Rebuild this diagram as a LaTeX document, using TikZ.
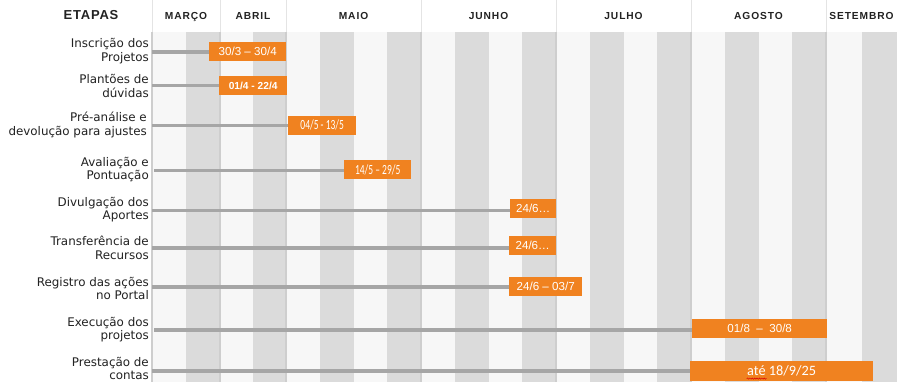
\documentclass[tikz,border=0pt]{standalone}
\usepackage{fontspec}
\setmainfont{DejaVu Sans}
\newfontfamily\headfont[LetterSpace=6]{Liberation Sans}
\newfontfamily\monthfont[LetterSpace=9]{Liberation Sans}
\newfontfamily\boxfont{Liberation Sans}
\newfontfamily\narrowfont[FakeStretch=0.68]{Carlito}
\newfontfamily\calfont{Carlito}
\usetikzlibrary{positioning,decorations.pathmorphing}

\definecolor{barorange}{RGB}{240,130,32}
\definecolor{stripelight}{RGB}{247,247,247}
\definecolor{stripedark}{RGB}{219,219,219}
\definecolor{linegray}{RGB}{166,166,166}
\definecolor{sepgray}{RGB}{206,206,206}
\definecolor{headsep}{RGB}{228,228,228}
\definecolor{textgray}{RGB}{34,34,34}

\begin{document}
\begin{tikzpicture}[x=1pt,y=-1pt,
    etapa/.style={anchor=east, align=right, inner sep=0pt, text=textgray,
      font=\fontsize{11.9}{13.3}\selectfont},
    periodo/.style={anchor=west, fill=barorange, text=white, inner sep=0pt,
      minimum height=19pt, font=\boxfont\fontsize{11.6}{13}\selectfont},
    trilha/.style={draw=linegray, line width=3.6pt},
    mes/.style={anchor=base, text=textgray, font=\monthfont\bfseries\fontsize{10.2}{12}\selectfont}]

  \useasboundingbox (0,0) rectangle (897,382);
  \fill[white] (0,0) rectangle (897,382);

  % semanas e meses
  \foreach \ini/\fim/\sem/\nome [count=\m] in {152/220/2/MARÇO, 220/286/2/ABRIL,
      286/421/4/MAIO, 421/556/4/JUNHO, 556/691/4/JULHO, 691/826/4/AGOSTO, 826/897/2/SETEMBRO}{
    \pgfmathsetmacro{\w}{(\fim-\ini)/\sem}
    \foreach \k in {1,...,\sem}{
      \pgfmathsetmacro{\xa}{\ini+(\k-1)*\w}
      \pgfmathsetmacro{\xb}{\ini+\k*\w}
      \ifodd\k
        \fill[stripelight] (\xa,32) rectangle (\xb,382);
      \else
        \fill[stripedark] (\xa,32) rectangle (\xb,382);
      \fi
    }
    \node[mes] (mes\m) at ({(\ini+\fim)/2},19.2) {\nome};
  }
  \foreach \x in {152,220,286,421,556,691,826}{
    \draw[headsep, line width=1pt] (\x,0) -- (\x,32);
    \draw[sepgray, line width=1.3pt] (\x,32) -- (\x,382);
  }

  \node[anchor=base, text=textgray, font=\headfont\bfseries\fontsize{13}{15}\selectfont] (etapas) at (91,19.2) {ETAPAS};

  % etapas
  \node[etapa] (e1) at (149,51) {Inscrição dos\\Projetos};
  \node[etapa] (e2) at (149,86) {Plantões de\\dúvidas};
  \node[etapa] (e3) at (147,125) {Pré-análise e\\devolução para ajustes};
  \node[etapa] (e4) at (149,169.7) {Avaliação e\\Pontuação};
  \node[etapa] (e5) at (149,209.5) {Divulgação dos\\Aportes};
  \node[etapa] (e6) at (149,247.8) {Transferência de\\Recursos};
  \node[etapa] (e7) at (149,288.5) {Registro das ações\\no Portal};
  \node[etapa] (e8) at (149,329.5) {Execução dos\\projetos};
  \node[etapa] (e9) at (149,368.6) {Prestação de\\contas};

  % periodos
  \node[periodo, minimum width=77pt] (p1) at (209,51.5) {30/3 – 30/4};
  \node[periodo, minimum width=68pt, font=\boxfont\bfseries\fontsize{10.2}{12}\selectfont] (p2) at (219,86) {01/4 - 22/4};
  \node[periodo, minimum width=68pt, font=\narrowfont\fontsize{14}{16}\selectfont] (p3) at (288,125.3) {04/5 - 13/5};
  \node[periodo, minimum width=67pt, font=\narrowfont\fontsize{14}{16}\selectfont] (p4) at (344,169.5) {14/5 – 29/5};
  \node[periodo, minimum width=46pt] (p5) at (510,208.3) {24/6…};
  \node[periodo, minimum width=47pt] (p6) at (509,245.3) {24/6…};
  \node[periodo, minimum width=73pt] (p7) at (509,286.3) {24/6 – 03/7};
  \node[periodo, minimum width=135pt] (p8) at (692,328.3) {01/8\ \ –\ \ 30/8};
  \node[periodo, minimum width=183pt, minimum height=20pt, font=\calfont\fontsize{14.3}{16}\selectfont] (p9) at (690,371) {até 18/9/25};

  \coordinate (i1) at (152,52);
  \coordinate (i2) at (152,85.7);
  \coordinate (i3) at (152,125.7);
  \coordinate (i4) at (154,170.7);
  \coordinate (i5) at (152,210.7);
  \coordinate (i6) at (152,248.3);
  \coordinate (i7) at (152,286.7);
  \coordinate (i8) at (154,330);
  \coordinate (i9) at (152,371);
  \foreach \n in {1,...,9}
    \draw[trilha] (i\n) -- (i\n -| p\n.west);

  % sublinhado do corretor
  \draw[red!85!black, line width=0.5pt, decorate, decoration={snake, amplitude=0.6pt, segment length=2.4pt}]
    ([xshift=-35pt,yshift=2.6pt]p9.south) -- ++(20,0);
\end{tikzpicture}
\end{document}
